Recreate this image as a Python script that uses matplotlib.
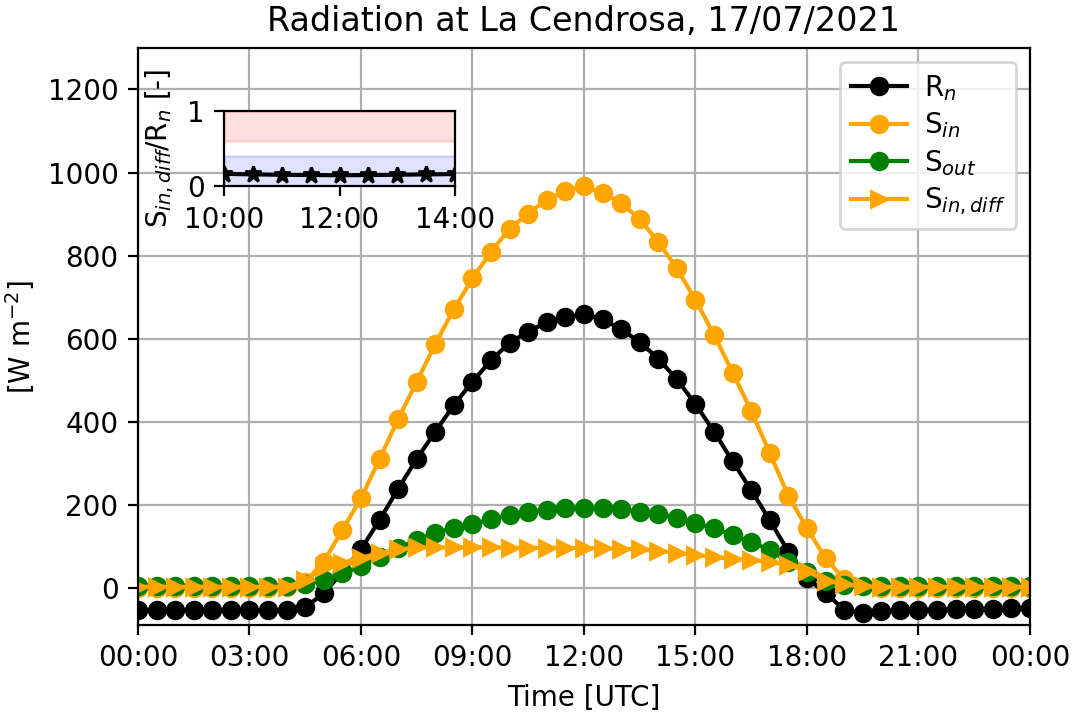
import matplotlib
matplotlib.use('Agg')
import matplotlib.pyplot as plt
import matplotlib.dates as mdates
import numpy as np
import pandas as pd

# half-hourly values, 17/07/2021 00:00 -> 18/07/2021 00:00
times = pd.date_range('2021-07-17 00:00', '2021-07-18 00:00', freq='30min')

rn = [-55, -54, -54, -53, -53, -54, -54, -55, -55, -47, -14, 38, 92, 163, 238, 310,
      376, 440, 496, 548, 590, 617, 639, 652, 658, 647, 622, 592, 551, 502, 442, 376,
      304, 235, 162, 87, 23, -13, -53, -61, -57, -55, -53, -53, -52, -52, -51, -49, -50]
s_in = [0, 0, 0, 0, 0, 0, 0, 0, 1, 14, 63, 139, 215, 310, 406, 496,
        587, 671, 745, 809, 865, 901, 935, 956, 967, 951, 927, 887, 833, 769, 693, 609,
        518, 426, 324, 221, 143, 71, 20, 3, 0, 0, 0, 0, 0, 0, 0, 0, 0]
s_out = [5, 5, 5, 5, 5, 5, 5, 5, 5, 9, 19, 35, 51, 75, 95, 115,
         132, 144, 153, 165, 176, 182, 188, 192, 192, 191, 189, 183, 178, 167, 155, 143,
         127, 109, 91, 62, 38, 15, 7, 5, 5, 5, 5, 5, 5, 5, 5, 5, 5]
s_in_diff = [2, 2, 2, 2, 2, 2, 2, 2, 2, 18, 50, 60, 72, 83, 92, 97,
             97, 97, 97, 97, 96, 96, 96, 96, 95, 95, 94, 92, 88, 84, 79, 74,
             70, 66, 62, 55, 40, 17, 8, 3, 2, 2, 2, 2, 2, 2, 2, 2, 2]

# ratio shown in the inset (10:00 - 14:00)
i0, i1 = 20, 29
ratio = np.array(s_in_diff[i0:i1]) / np.array(rn[i0:i1])

fig = plt.figure(figsize=(5.36, 3.565), dpi=200)
ax = fig.add_axes([0.1287, 0.1234, 0.8321, 0.8093])

ax.plot(times, rn, 'o-', color='black', label='R$_n$')
ax.plot(times, s_in, 'o-', color='orange', label='S$_{in}$')
ax.plot(times, s_out, 'o-', color='green', label='S$_{out}$')
ax.plot(times, s_in_diff, '>-', color='orange', label='S$_{in,diff}$')

ax.set_xlim(times[0], times[-1])
ax.set_ylim(-90, 1300)
ax.set_yticks([0, 200, 400, 600, 800, 1000, 1200])
ax.xaxis.set_major_locator(mdates.HourLocator(byhour=range(0, 24, 3)))
ax.xaxis.set_major_formatter(mdates.DateFormatter('%H:%M'))
ax.grid(True)
ax.set_xlabel('Time [UTC]')
ax.set_ylabel('[W m$^{-2}$]')
ax.set_title('Radiation at La Cendrosa, 17/07/2021')
ax.legend(loc='upper right', labelspacing=0.28, handletextpad=0.6)

# inset with diffuse fraction
axin = fig.add_axes([0.209, 0.739, 0.2155, 0.1056])
axin.axhspan(0.6, 1.0, color='red', alpha=0.12)
axin.axhspan(0.0, 0.4, color='blue', alpha=0.12)
axin.plot(times[i0:i1], ratio, '*-', color='black')
axin.set_xlim(times[i0], times[i1 - 1])
axin.set_ylim(0, 1)
axin.set_yticks([0, 1])
axin.xaxis.set_major_locator(mdates.HourLocator(byhour=[10, 12, 14]))
axin.xaxis.set_major_formatter(mdates.DateFormatter('%H:%M'))
axin.set_ylabel('S$_{in,diff}$/R$_n$ [-]')

fig.savefig('out.png', dpi=200)
